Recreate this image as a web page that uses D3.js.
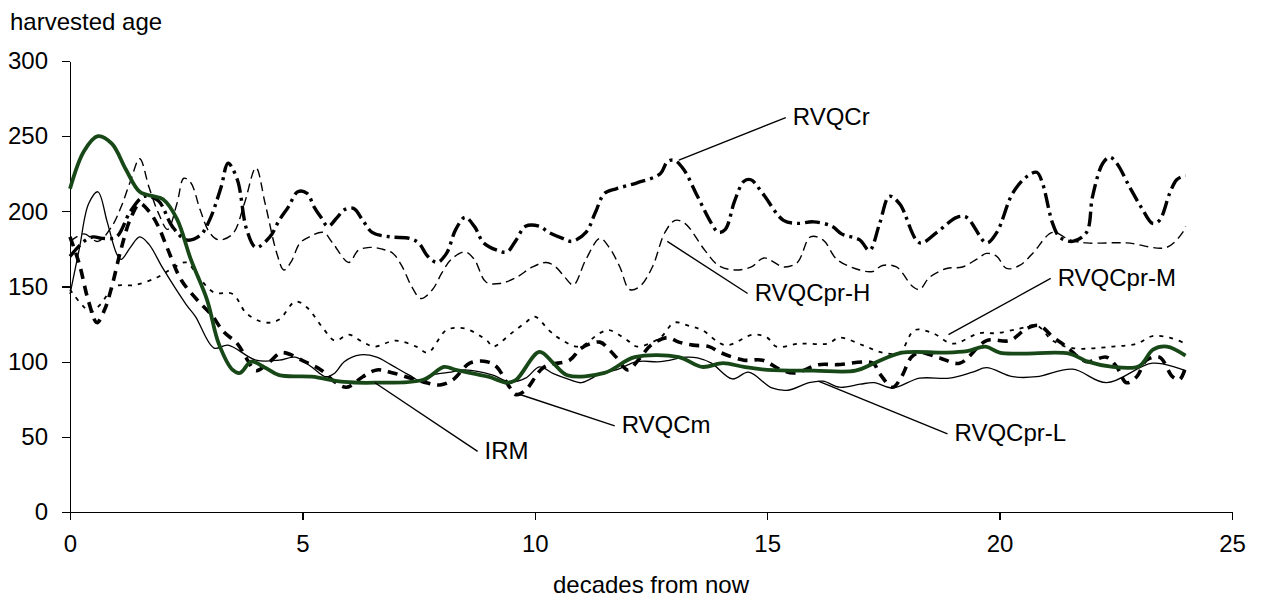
<!DOCTYPE html>
<html>
<head>
<meta charset="utf-8">
<script src="https://cdn.jsdelivr.net/npm/d3@7/dist/d3.min.js"></script>
<style>
    body { margin: 0; background: #fff; }
    svg text { font-family: "Liberation Sans", Arial, sans-serif; font-size: 24px; fill: #000; }
    .axis path, .axis line { stroke: #000; stroke-width: 1.3; shape-rendering: crispEdges; }
</style>
</head>
<body>
<script>

// Axis ticks
const xTicks = [0, 5, 10, 15, 20, 25];
const yTicks = [0, 50, 100, 150, 200, 250, 300];

// Series: decades from now -> harvested age
const rvqcrX = [0, 0.3, 0.5, 0.7, 1.0, 1.3, 1.6, 1.9, 2.2, 2.5, 2.8, 3.0, 3.25, 3.4, 3.6, 3.8, 4.0, 4.3, 4.5, 4.7, 4.9, 5.1, 5.25, 5.4, 5.55, 5.75, 5.9, 6.1, 6.3, 6.5, 6.9, 7.3, 7.5, 7.7, 7.9, 8.1, 8.3, 8.5, 8.7, 8.9, 9.2, 9.4, 9.6, 9.8, 10.1, 10.3, 10.6, 10.8, 11.1, 11.3, 11.5, 11.75, 12.2, 12.7, 12.85, 13.0, 13.2, 13.5, 13.8, 13.95, 14.1, 14.3, 14.5, 14.65, 14.9, 15.35, 15.65, 16.0, 16.4, 16.6, 16.99, 17.2, 17.42, 17.63, 17.85, 18.28, 18.65, 19.08, 19.29, 19.72, 19.94, 20.28, 20.58, 20.8, 20.92, 21.14, 21.29, 21.57, 21.87, 22.0, 22.22, 22.37, 22.52, 22.8, 23.08, 23.29, 23.44, 23.66, 23.81, 24.0];
const rvqcrAge = [170, 180, 183, 182, 183, 200, 210, 207, 190, 181, 184, 194, 216, 232, 221, 188, 176, 183, 194, 203, 213, 212, 203, 196, 190, 196, 201, 202, 194, 186, 183, 182, 179, 170, 166, 172, 188, 196, 190, 179, 174, 173, 181, 190, 190, 186, 182, 180, 186, 199, 212, 215, 219, 225, 233, 234, 228, 210, 192, 186, 188, 207, 220, 221, 212, 194, 192, 193, 190, 185, 181, 174, 192, 210, 205, 179, 186, 196, 196, 179, 186, 212, 223, 226, 219, 192, 183, 180, 186, 210, 232, 236, 232, 216, 201, 192, 194, 212, 221, 224];

const prHX = [0, 0.3, 0.6, 0.9, 1.1, 1.3, 1.5, 1.7, 1.9, 2.1, 2.3, 2.45, 2.6, 2.8, 3.0, 3.2, 3.5, 3.75, 4.0, 4.2, 4.45, 4.6, 4.75, 4.95, 5.15, 5.45, 5.65, 6.0, 6.2, 6.45, 6.7, 6.95, 7.15, 7.35, 7.55, 7.8, 8.0, 8.2, 8.5, 8.7, 8.95, 9.25, 9.6, 9.95, 10.25, 10.45, 10.65, 10.83, 11.1, 11.4, 11.6, 11.83, 12.04, 12.26, 12.53, 12.8, 13.02, 13.23, 13.66, 13.95, 14.3, 14.66, 14.93, 15.36, 15.65, 15.93, 16.2, 16.5, 16.99, 17.27, 17.48, 17.78, 18.13, 18.28, 18.49, 18.86, 19.2, 19.5, 19.72, 19.94, 20.15, 20.43, 20.71, 21.14, 21.51, 21.87, 22.73, 23.59, 23.94, 24.0];
const prHAge = [180, 185, 180, 190, 203, 220, 235, 216, 199, 188, 205, 222, 219, 201, 186, 181, 185, 205, 229, 205, 172, 161, 166, 179, 183, 186, 179, 166, 174, 176, 175, 172, 163, 150, 142, 148, 159, 168, 173, 168, 153, 152, 156, 163, 166, 163, 156, 151, 168, 182, 176, 163, 148, 150, 163, 186, 194, 192, 174, 164, 161, 163, 169, 163, 166, 183, 181, 168, 161, 160, 164, 163, 150, 148, 156, 162, 163, 168, 172, 170, 162, 164, 172, 186, 181, 179, 179, 176, 186, 190];

const prMX = [0, 0.45, 0.65, 0.97, 1.4, 1.87, 2.2, 2.5, 2.8, 3.1, 3.5, 3.8, 4.2, 4.5, 4.85, 5.1, 5.45, 5.7, 6.0, 6.3, 6.55, 7.0, 7.45, 7.7, 8.1, 8.5, 8.97, 9.1, 9.5, 9.8, 10.0, 10.3, 10.5, 10.95, 11.4, 11.6, 12.0, 12.2, 12.7, 13.0, 13.3, 13.6, 14.1, 14.7, 15.0, 15.2, 15.7, 16.3, 16.56, 17.05, 17.48, 17.85, 18.17, 18.56, 18.99, 19.57, 19.94, 20.43, 20.8, 21.14, 21.57, 22.43, 22.95, 23.29, 23.66, 24.0];
const prMAge = [148, 133, 138, 150, 151, 156, 162, 166, 155, 146, 145, 132, 126, 128, 140, 136, 122, 114, 118, 113, 110, 114, 110, 106, 121, 122, 114, 110, 119, 126, 130, 121, 116, 110, 119, 121, 114, 110, 116, 126, 124, 121, 111, 118, 116, 110, 112, 112, 116, 111, 106, 106, 121, 119, 112, 119, 119, 122, 124, 114, 109, 110, 112, 117, 116, 112];

const prLX = [0, 0.2, 0.4, 0.6, 0.8, 1.0, 1.1, 1.3, 1.5, 1.7, 2.0, 2.5, 2.7, 3.1, 3.4, 4.0, 4.5, 4.85, 5.2, 5.5, 5.7, 5.9, 6.25, 6.6, 6.9, 7.3, 7.6, 7.8, 8.2, 8.5, 9.1, 9.45, 9.8, 10.1, 10.4, 10.75, 11.0, 11.45, 11.75, 12.2, 12.7, 13.25, 13.5, 13.8, 14.25, 14.6, 15.1, 15.45, 15.9, 16.2, 16.56, 17.0, 17.3, 17.7, 18.28, 18.92, 19.42, 19.72, 20.28, 20.8, 21.57, 22.3, 23.29, 24.0];
const prLAge = [145, 175, 205, 213, 193, 172, 168, 176, 183, 178, 162, 138, 130, 109, 111, 101, 101, 103, 96.5, 90, 92.5, 100, 104.5, 103, 98, 91, 86.5, 91, 93, 94.5, 91, 86.5, 89, 96.5, 92, 88, 86, 92.5, 94.5, 100, 100, 103, 102.5, 99, 88.5, 93, 82.5, 81, 86, 87, 83, 85, 86, 82.5, 89, 89, 93, 96, 90, 90, 95, 86, 99, 94];

const rvqcmX = [0, 0.2, 0.4, 0.58, 0.75, 0.9, 1.1, 1.3, 1.5, 1.7, 1.9, 2.1, 2.4, 2.8, 3.05, 3.3, 3.6, 3.8, 4.0, 4.3, 4.55, 5.05, 5.4, 5.7, 5.95, 6.3, 6.6, 6.95, 7.6, 7.96, 8.24, 8.6, 8.97, 9.18, 9.46, 9.6, 9.8, 10.2, 10.75, 11.0, 11.4, 11.6, 11.75, 12.0, 12.25, 12.5, 12.85, 13.1, 13.4, 13.75, 14.0, 14.5, 14.9, 15.3, 15.6, 16.1, 16.5, 17.27, 17.42, 17.7, 17.89, 18.1, 18.28, 18.71, 19.14, 19.72, 20.22, 20.58, 20.86, 21.14, 21.35, 21.51, 21.87, 22.3, 22.52, 22.73, 22.95, 23.16, 23.44, 23.72, 23.87, 24.0];
const rvqcmAge = [183, 165, 140, 126, 135, 150, 175, 195, 205, 200, 190, 175, 154, 139, 131, 120, 112, 102, 94, 100, 106, 100, 94.5, 86.5, 83, 90, 94.5, 92.5, 86.5, 84.5, 88, 99, 100, 96.5, 83, 78, 81, 96.5, 101, 109, 113, 108, 103, 94.5, 102, 111, 116, 113, 111, 110, 106, 101, 101, 94.5, 92.5, 98, 98, 99, 92, 83, 90, 103, 106, 102.5, 99, 114, 114, 122, 124, 116.5, 112, 108, 100, 103, 96.5, 86, 90, 101, 103, 90, 88, 96];

const irmX = [0, 0.3, 0.6, 0.9, 1.2, 1.5, 1.8, 2.0, 2.3, 2.6, 2.95, 3.2, 3.5, 3.66, 3.9, 4.2, 4.5, 5.2, 5.9, 6.55, 7.6, 8.05, 8.3, 9.0, 9.4, 9.6, 10.1, 10.4, 10.7, 11.5, 12.15, 13.1, 13.6, 14.05, 14.5, 15.0, 16.0, 16.9, 17.3, 17.9, 18.8, 19.3, 19.7, 20.0, 20.5, 21.5, 21.9, 22.4, 23.0, 23.3, 23.6, 24.0];
const irmAge = [215, 240, 250, 245, 228, 213, 210, 208, 195, 168, 141, 112, 94.5, 92.5, 100, 96, 91, 90, 86.5, 86, 88, 96.5, 94.5, 90, 86, 88, 106.5, 99, 91, 92.5, 103, 103, 96.5, 99, 96.5, 94.5, 94, 94, 99, 106, 106, 107, 110, 106, 105.4, 105.4, 100, 96.7, 97, 108, 110, 104];

// Callout labels: text position and the point on the curve the leader reaches
const labelNames = ["RVQCr", "RVQCpr-H", "RVQCpr-M", "RVQCpr-L", "RVQCm", "IRM"];
const labelX = [15.55, 14.73, 21.25, 19.03, 11.87, 8.92];
const labelAge = [263, 146, 156, 52.6, 58, 41];
const leaderX = [13.1, 12.85, 18.9, 16.1, 9.6, 6.56];
const leaderAge = [234, 180, 118, 87, 79, 86];

const width = 1271;
const height = 603;
const margin = {top: 61, right: 39, bottom: 91, left: 70};

const xRange = d3.scaleLinear().domain([0, 25]).range([margin.left, width - margin.right]);
const yRange = d3.scaleLinear().domain([0, 300]).range([height - margin.bottom, margin.top]);

const svg = d3.select("body").append("svg")
    .attr("width", width)
    .attr("height", height);

// Axes
svg.append("g")
    .attr("class", "axis")
    .attr("transform", "translate(0," + yRange(0) + ")")
    .call(d3.axisBottom(xRange).tickValues(xTicks).tickSize(8).tickSizeOuter(0).tickPadding(15));

svg.append("g")
    .attr("class", "axis")
    .attr("transform", "translate(" + xRange(0) + ",0)")
    .call(d3.axisLeft(yRange).tickValues(yTicks).tickSize(8).tickSizeOuter(0).tickPadding(14));

svg.selectAll(".axis text").attr("font-size", null).attr("font-family", null);

svg.append("text")
    .attr("x", 10)
    .attr("y", 30)
    .text("harvested age");

svg.append("text")
    .attr("x", (xRange(0) + xRange(25)) / 2)
    .attr("y", 593)
    .style("text-anchor", "middle")
    .text("decades from now");

// Lines
const pathFor = (xs, ys) => d3.line()
    .x((d, i) => xRange(xs[i]))
    .y(d => yRange(d))
    .curve(d3.curveCatmullRom.alpha(0.5))(ys);

const addSeries = (xs, ys, colour, strokeWidth, dash) =>
    svg.append("path")
        .attr("d", pathFor(xs, ys))
        .attr("fill", "none")
        .attr("stroke", colour)
        .attr("stroke-width", strokeWidth)
        .attr("stroke-dasharray", dash)
        .attr("stroke-linejoin", "round");

addSeries(prHX, prHAge, "#000", 1.4, "9,5");
addSeries(prMX, prMAge, "#000", 1.8, "4,6");
addSeries(prLX, prLAge, "#000", 1.3, null);
addSeries(rvqcrX, rvqcrAge, "#000", 3.4, "15,5,3,5");
addSeries(rvqcmX, rvqcmAge, "#000", 3.6, "10,7");
addSeries(irmX, irmAge, "#184818", 3.8, null);

// Callouts
labelNames.forEach((name, i) => {
    svg.append("line")
        .attr("x1", xRange(labelX[i]) - 7)
        .attr("y1", yRange(labelAge[i]) + 1)
        .attr("x2", xRange(leaderX[i]))
        .attr("y2", yRange(leaderAge[i]))
        .attr("stroke", "#000")
        .attr("stroke-width", 1.4);
    svg.append("text")
        .attr("x", xRange(labelX[i]))
        .attr("y", yRange(labelAge[i]))
        .attr("dy", "0.35em")
        .text(name);
});

</script>
</body>
</html>
